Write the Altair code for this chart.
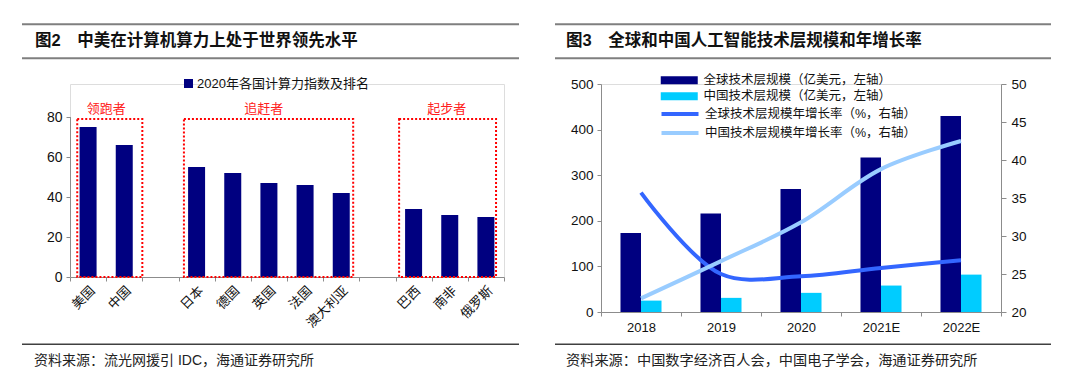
import altair as alt
import pandas as pd

# ---------------- data: left panel ----------------
countries = ["美国", "中国", "日本", "德国", "英国", "法国", "澳大利亚", "巴西", "南非", "俄罗斯"]
index_values = [75, 66, 55, 52, 47, 46, 42, 34, 31, 30]
x_domain = ["美国", "中国", " ", "日本", "德国", "英国", "法国", "澳大利亚", "  ", "巴西", "南非", "俄罗斯"]
legend_left = "2020年各国计算力指数及排名"
group_names = ["领跑者", "追赶者", "起步者"]
group_start = ["美国", "日本", "巴西"]
group_end = ["中国", "澳大利亚", "俄罗斯"]
group_label_at = ["中国", "英国", "南非"]
box_top = 79
y_ticks_left = [0, 20, 40, 60, 80]
title_left = "图2\u3000中美在计算机算力上处于世界领先水平"
source_left = "资料来源：流光网援引 IDC，海通证券研究所"

# ---------------- data: right panel ----------------
years = ["2018", "2019", "2020", "2021E", "2022E"]
global_size = [173, 216, 270, 339, 430]
china_size = [25, 31, 42, 58, 82]
global_rate = [35.7, 25.0, 24.7, 25.8, 26.8]
china_rate = [21.8, 26.7, 31.8, 38.8, 42.5]
bar_labels = ["全球技术层规模（亿美元，左轴）", "中国技术层规模（亿美元，左轴）"]
rate_labels = ["全球技术层规模年增长率（%，右轴）", "中国技术层规模年增长率（%，右轴）"]
title_right = "图3\u3000全球和中国人工智能技术层规模和年增长率"
source_right = "资料来源：中国数字经济百人会，中国电子学会，海通证券研究所"

FONT = "Liberation Sans, Noto Sans CJK SC"
AXIS_GRAY = "#8c8c8c"

# =============== LEFT PANEL ===============
W1, H1 = 434, 193
df1 = pd.DataFrame({"country": countries, "value": index_values, "series": [legend_left] * len(countries)})

xscale1 = alt.Scale(domain=x_domain, paddingInner=0, paddingOuter=0)
xaxis1 = alt.Axis(title=None, labelAngle=-45, tickBand="extent", labelFontSize=13,
                  labelColor="#111", domainColor=AXIS_GRAY, tickColor=AXIS_GRAY,
                  tickSize=4, labelPadding=3, labelFont=FONT)
yscale1 = alt.Scale(domain=[0, 96.5], nice=False)
yaxis1 = alt.Axis(title=None, values=y_ticks_left, grid=False, labelFontSize=14, domain=False,
                  labelColor="#111", tickColor=AXIS_GRAY,
                  tickSize=4, labelPadding=4, labelFont=FONT)

bars1 = alt.Chart(df1).mark_bar(width=alt.RelativeBandSize(0.47)).encode(
    x=alt.X("country:N", scale=xscale1, axis=xaxis1),
    y=alt.Y("value:Q", scale=yscale1, axis=yaxis1),
    color=alt.Color("series:N", scale=alt.Scale(domain=[legend_left], range=["#000080"]),
                    legend=alt.Legend(orient="none", legendX=112, legendY=-7, title=None,
                                      symbolType="square", symbolSize=81, labelFontSize=13,
                                      labelOffset=2, padding=0, labelColor="#111",
                                      labelFont=FONT, labelLimit=300)),
)

# y-axis line spanning the tick range only
ydom = pd.DataFrame({"lo": [y_ticks_left[0]], "hi": [y_ticks_left[-1]]})
yline1 = alt.Chart(ydom).mark_rule(color=AXIS_GRAY, strokeWidth=1).encode(
    x=alt.value(0.5),
    y=alt.Y("lo:Q", scale=yscale1, axis=yaxis1),
    y2="hi:Q",
)

box_layers = []
box_bands = [(0.2, 1.0), (0.15, 0.83), (0.1, 0.78)]
label_bands = [0.0, 0.36, 0.42]
for i in range(3):
    gdf = pd.DataFrame({"s": [group_start[i]], "e": [group_end[i]], "lo": [0], "hi": [box_top],
                        "name": [group_names[i]], "at": [group_label_at[i]]})
    box = alt.Chart(gdf).mark_rect(fill="transparent", stroke="#ff0000", strokeWidth=2,
                                   strokeDash=[2, 2]).encode(
        x=alt.X("s:N", bandPosition=box_bands[i][0], scale=xscale1, axis=xaxis1),
        x2=alt.X2("e", bandPosition=box_bands[i][1]),
        y=alt.Y("lo:Q", scale=yscale1, axis=yaxis1),
        y2="hi:Q",
    )
    lab = alt.Chart(gdf).mark_text(color="#ff2020", fontSize=13, font=FONT, baseline="middle").encode(
        x=alt.X("at:N", bandPosition=label_bands[i], scale=xscale1, axis=xaxis1),
        y=alt.value(25),
        text="name:N",
    )
    box_layers += [box, lab]

deco1 = pd.DataFrame({"t": [title_left], "s": [source_left]})
rule1a = alt.Chart(deco1).mark_rule(color="#7f7f7f", strokeWidth=2).encode(
    x=alt.value(-48), x2=alt.value(449), y=alt.value(-59.7))
rule1b = alt.Chart(deco1).mark_rule(color="#7f7f7f", strokeWidth=2).encode(
    x=alt.value(-48), x2=alt.value(449), y=alt.value(-25.7))
rule1c = alt.Chart(deco1).mark_rule(color="#404040", strokeWidth=1.5).encode(
    x=alt.value(-48), x2=alt.value(449), y=alt.value(260.3))
title1 = alt.Chart(deco1).mark_text(align="left", baseline="middle", fontSize=16.5, fontWeight="bold",
                                    font=FONT, color="#111").encode(
    x=alt.value(-35), y=alt.value(-42.7), text="t:N")
src1 = alt.Chart(deco1).mark_text(align="left", baseline="middle", fontSize=14,
                                  font=FONT, color="#222").encode(
    x=alt.value(-36), y=alt.value(277.3), text="s:N")

left = alt.layer(bars1, yline1, *box_layers, rule1a, rule1b, rule1c, title1, src1).properties(
    width=W1, height=H1)

# =============== RIGHT PANEL ===============
W2, H2 = 400, 228
df_bars = pd.DataFrame({
    "year": years + years,
    "series": [bar_labels[0]] * 5 + [bar_labels[1]] * 5,
    "value": global_size + china_size,
})
df_lines = pd.DataFrame({
    "year": years + years,
    "series": [rate_labels[0]] * 5 + [rate_labels[1]] * 5,
    "rate": global_rate + china_rate,
})

xscale2 = alt.Scale(domain=years, paddingInner=0, paddingOuter=0)
xaxis2 = alt.Axis(title=None, labelAngle=0, tickBand="extent", labelFontSize=13, labelColor="#111",
                  domainColor=AXIS_GRAY, tickColor=AXIS_GRAY, tickSize=4, labelPadding=5,
                  labelFont=FONT)

bars2 = alt.Chart(df_bars).mark_bar().encode(
    x=alt.X("year:N", scale=xscale2, axis=xaxis2),
    xOffset=alt.XOffset("series:N", scale=alt.Scale(domain=bar_labels, paddingInner=0, paddingOuter=0.95)),
    y=alt.Y("value:Q", scale=alt.Scale(domain=[0, 500], nice=False),
            axis=alt.Axis(title=None, orient="left", values=[0, 100, 200, 300, 400, 500], grid=False,
                          labelFontSize=13.5, labelColor="#111", domainColor=AXIS_GRAY,
                          tickColor=AXIS_GRAY, tickSize=4, labelPadding=4, labelFont=FONT)),
    color=alt.Color("series:N", scale=alt.Scale(domain=bar_labels, range=["#000080", "#00ccff"]),
                    legend=alt.Legend(orient="none", legendX=72, legendY=-10, title=None,
                                      symbolType="M-3.7,-0.8H3.7V0.8H-3.7Z", symbolSize=100,
                                      labelFontSize=12.5, labelOffset=18, rowPadding=3, padding=0,
                                      labelColor="#111", labelFont=FONT, labelLimit=400,
                                      symbolStrokeWidth=0)),
)

lines2 = alt.Chart(df_lines).mark_line(strokeWidth=4, interpolate="catmull-rom").encode(
    x=alt.X("year:N", scale=xscale2, axis=xaxis2),
    y=alt.Y("rate:Q", scale=alt.Scale(domain=[20, 50], nice=False),
            axis=alt.Axis(title=None, orient="right", values=[20, 25, 30, 35, 40, 45, 50], grid=False,
                          labelFontSize=13.5, labelColor="#111", domainColor=AXIS_GRAY,
                          tickColor=AXIS_GRAY, tickSize=5, labelPadding=5, labelFont=FONT)),
    stroke=alt.Stroke("series:N", scale=alt.Scale(domain=rate_labels, range=["#3366ff", "#99ccff"]),
                      legend=alt.Legend(orient="none", legendX=72, legendY=23, title=None,
                                        symbolType="M-3.7,0H3.7", symbolSize=100, symbolStrokeWidth=4,
                                        labelFontSize=12.5, labelOffset=18, rowPadding=3, padding=0,
                                        labelColor="#111", labelFont=FONT, labelLimit=400)),
    order=alt.Order("series:N", sort="ascending"),
)

deco2 = pd.DataFrame({"t": [title_right], "s": [source_right]})
rule2a = alt.Chart(deco2).mark_rule(color="#7f7f7f", strokeWidth=2).encode(
    x=alt.value(-46), x2=alt.value(450), y=alt.value(-59.7))
rule2b = alt.Chart(deco2).mark_rule(color="#7f7f7f", strokeWidth=2).encode(
    x=alt.value(-46), x2=alt.value(450), y=alt.value(-25.7))
rule2c = alt.Chart(deco2).mark_rule(color="#404040", strokeWidth=1.5).encode(
    x=alt.value(-46), x2=alt.value(450), y=alt.value(260.3))
title2 = alt.Chart(deco2).mark_text(align="left", baseline="middle", fontSize=16.5, fontWeight="bold",
                                    font=FONT, color="#111").encode(
    x=alt.value(-35), y=alt.value(-42.7), text="t:N")
src2 = alt.Chart(deco2).mark_text(align="left", baseline="middle", fontSize=14.2,
                                  font=FONT, color="#222").encode(
    x=alt.value(-35), y=alt.value(277.3), text="s:N")

right = alt.layer(bars2, lines2, rule2a, rule2b, rule2c, title2, src2).resolve_scale(
    y="independent").properties(width=W2, height=H2)

chart = alt.hconcat(left, right, spacing=32).resolve_scale(
    color="independent", stroke="independent"
).resolve_legend(
    color="independent", stroke="independent"
).properties(
    padding={"left": 12, "top": 14, "right": 0, "bottom": 0}
).configure_view(stroke=None).configure(font=FONT)

chart.save("out.html", embed_options={"renderer": "svg", "actions": False})
